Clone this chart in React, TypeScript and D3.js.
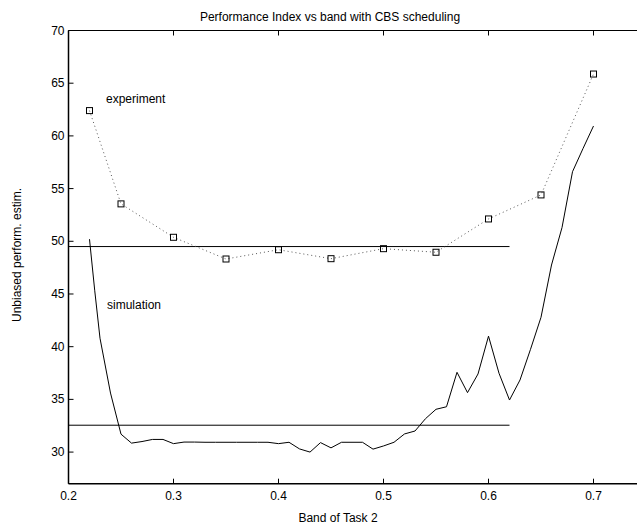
import React from "react";
import * as d3 from "d3";

// Simulated performance index sampled over the band of task 2
const simBand = [
  0.22, 0.225, 0.23, 0.24, 0.25, 0.26, 0.27, 0.28, 0.29, 0.3, 0.31, 0.32, 0.33, 0.34, 0.35,
  0.36, 0.37, 0.38, 0.39, 0.4, 0.41, 0.42, 0.43, 0.44, 0.45, 0.46, 0.47, 0.48, 0.49, 0.5,
  0.51, 0.52, 0.53, 0.54, 0.55, 0.56, 0.57, 0.58, 0.59, 0.6, 0.61, 0.62, 0.63, 0.64, 0.65,
  0.66, 0.67, 0.68, 0.69, 0.7,
];
const simValue = [
  50.2, 45.3, 40.8, 35.6, 31.7, 30.85, 31.0, 31.2, 31.2, 30.8, 30.95, 30.95, 30.93, 30.93, 30.93,
  30.93, 30.93, 30.93, 30.93, 30.8, 30.93, 30.3, 30.0, 30.9, 30.4, 30.93, 30.93, 30.93, 30.28, 30.58,
  30.93, 31.72, 32.0, 33.17, 34.06, 34.3, 37.57, 35.64, 37.41, 41.0, 37.48, 34.94, 36.84, 39.75, 42.79,
  47.75, 51.3, 56.6, 58.8, 60.94,
];

// Measured performance index
const expBand = [0.22, 0.25, 0.3, 0.35, 0.4, 0.45, 0.5, 0.55, 0.6, 0.65, 0.7];
const expValue = [62.4, 53.55, 50.38, 48.32, 49.2, 48.35, 49.3, 48.96, 52.12, 54.4, 65.87];

// Mean levels drawn as flat reference lines
const refLevels = [49.5, 32.55];
const refBandRange = [0.2, 0.62];

const xTicks = [0.2, 0.3, 0.4, 0.5, 0.6, 0.7];
const yTicks = [30, 35, 40, 45, 50, 55, 60, 65, 70];

const W = 637;
const H = 531;
const FONT = "'Liberation Sans', Arial, Helvetica, sans-serif";
const FS = 12;

export default function App() {
  const x = d3.scaleLinear().domain([0.2, 0.75]).range([68.5, 646]);
  const y = d3.scaleLinear().domain([27, 70]).range([483.7, 30.5]);
  const left = x(0.2);
  const right = x(0.75);
  const top = y(70);
  const bottom = y(27);

  const line = d3
    .line<[number, number]>()
    .x((d) => x(d[0]))
    .y((d) => y(d[1]));

  const simPts = simBand.map((b, i) => [b, simValue[i]] as [number, number]);
  const expPts = expBand.map((b, i) => [b, expValue[i]] as [number, number]);
  const tickLen = 5;

  return (
    <svg
      width={W}
      height={H}
      style={{ position: "absolute", left: 0, top: 0, background: "#fff" }}
      fontFamily={FONT}
    >
      <rect x={0} y={0} width={W} height={H} fill="#fff" />

      {/* reference levels */}
      {refLevels.map((v) => (
        <line
          key={v}
          x1={x(refBandRange[0])}
          x2={x(refBandRange[1])}
          y1={y(v)}
          y2={y(v)}
          stroke="#000"
          strokeWidth={1}
        />
      ))}

      {/* simulation curve */}
      <path d={line(simPts) ?? ""} fill="none" stroke="#000" strokeWidth={1} />

      {/* experiment curve */}
      <path
        d={line(expPts) ?? ""}
        fill="none"
        stroke="#444"
        strokeWidth={0.9}
        strokeDasharray="1 3"
      />
      {expPts.map((d, i) => (
        <rect
          key={i}
          x={x(d[0]) - 3}
          y={y(d[1]) - 3}
          width={6}
          height={6}
          fill="none"
          stroke="#000"
          strokeWidth={1}
        />
      ))}

      {/* axes box */}
      <line x1={left} x2={right} y1={top} y2={top} stroke="#000" strokeWidth={1.2} />
      <line x1={left} x2={right} y1={bottom} y2={bottom} stroke="#000" strokeWidth={1.5} />
      <line x1={left} x2={left} y1={top} y2={bottom} stroke="#000" strokeWidth={1.5} />

      {xTicks.map((t) => (
        <g key={t}>
          <line x1={x(t)} x2={x(t)} y1={bottom} y2={bottom - tickLen} stroke="#000" />
          <line x1={x(t)} x2={x(t)} y1={top} y2={top + tickLen} stroke="#000" />
          <text x={x(t)} y={bottom + 16} fontSize={FS} textAnchor="middle" fill="#000">
            {d3.format(".1f")(t)}
          </text>
        </g>
      ))}
      {yTicks.map((t) => (
        <g key={t}>
          <line x1={left} x2={left + tickLen} y1={y(t)} y2={y(t)} stroke="#000" />
          <text x={left - 4} y={y(t) + 4} fontSize={FS} textAnchor="end" fill="#000">
            {t}
          </text>
        </g>
      ))}

      {/* annotations */}
      <text x={106} y={103} fontSize={FS} fill="#000">
        experiment
      </text>
      <text x={107} y={309} fontSize={FS} fill="#000">
        simulation
      </text>

      {/* titles */}
      <text x={330} y={21} fontSize={FS} textAnchor="middle" fill="#000">
        Performance Index vs band with CBS scheduling
      </text>
      <text x={338} y={522} fontSize={FS} textAnchor="middle" fill="#000">
        Band of Task 2
      </text>
      <text
        transform={`translate(21, 255) rotate(-90)`}
        fontSize={FS}
        textAnchor="middle"
        fill="#000"
      >
        Unbiased perform. estim.
      </text>
    </svg>
  );
}
